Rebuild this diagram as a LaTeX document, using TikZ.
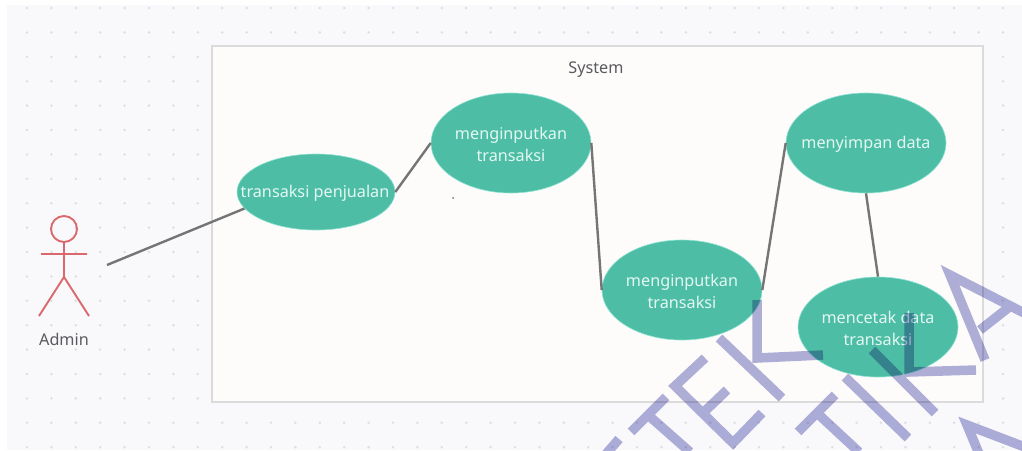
\documentclass[tikz,border=0pt]{standalone}
\usepackage{fontspec}
\setmainfont{Noto Sans}
\usetikzlibrary{shapes.geometric}
\definecolor{panelbg}{HTML}{F9F9FC}
\definecolor{griddot}{HTML}{DEDEE5}
\definecolor{boxfill}{HTML}{FDFCFB}
\definecolor{boxline}{HTML}{DBDBDB}
\definecolor{usefill}{HTML}{4DBDA6}
\definecolor{usehalo}{HTML}{8FE3D0}
\definecolor{usetext}{HTML}{E4F8F2}
\definecolor{linkcol}{HTML}{757575}
\definecolor{actorcol}{HTML}{D9696C}
\definecolor{labelcol}{HTML}{5A5A5F}
\definecolor{markcol}{HTML}{B0B0DA}
\tikzset{
  usecase/.style={ellipse,fill=usefill,draw=usehalo,line width=0.6pt,inner sep=0pt,
    minimum width=160pt,minimum height=100pt},
  usetextnode/.style={text=usetext,align=center,inner sep=0pt,
    font=\fontsize{16.2}{22}\selectfont},
  link/.style={draw=linkcol,line width=2.4pt},
  actorline/.style={draw=actorcol,line width=1.9pt},
  caption/.style={text=labelcol,font=\fontsize{16.2}{20}\selectfont,inner sep=0pt},
  watermark/.style={draw=markcol,line width=9.5pt,blend mode=multiply}
}
\begin{document}
\begin{tikzpicture}[x=1pt,y=-1pt]
\useasboundingbox (0,0) rectangle (1022,450);
\clip (0,0) rectangle (1022,450);
\fill[white] (0,0) rectangle (1022,450);
\fill[panelbg] (7,5) rectangle (1022,450);
\foreach \i in {0,...,40}{\foreach \j in {0,...,18}{
  \fill[griddot] ({27+24.4*\i},{8+24.4*\j}) circle (1.4);}}
\node[draw=boxline,fill=boxfill,line width=2pt,minimum width=771pt,minimum height=356pt,
  inner sep=0pt,anchor=north west] (sys) at (211,45) {};
\node[caption] (title) at (596,70) {System};
\fill[linkcol] (453,198) circle (1);
\node[usecase,minimum width=158pt,minimum height=76pt] (e1) at (316,192) {};
\node[usecase] (e2) at (511,143) {};
\node[usecase] (e3) at (682,290) {};
\node[usecase] (e4) at (866,143) {};
\node[usecase] (e5) at (878,327) {};
\node[usetextnode] (t1) at (315,193) {transaksi penjualan};
\node[usetextnode] (t2) at (511,144) {menginputkan\\transaksi};
\node[usetextnode] (t3) at (682,291) {menginputkan\\transaksi};
\node[usetextnode] (t4) at (866,144) {menyimpan data};
\node[usetextnode] (t5) at (878,328) {mencetak data\\transaksi};
% actor
\node[circle,actorline,minimum size=26pt,inner sep=0pt] (head) at (64,229) {};
\coordinate (armL) at (41,254);
\coordinate (armR) at (87,254);
\coordinate (hip) at (64,277);
\coordinate (footL) at (39,316);
\coordinate (footR) at (89,316);
\draw[actorline] (head.south) -- (hip) (armL) -- (armR) (footL) -- (hip) -- (footR);
\node[caption] (admin) at (64,339) {Admin};
% connectors
\coordinate (actorend) at (107,265);
\draw[link] (actorend) -- (e1.193);
\draw[link] (e1.east) -- (e2.west);
\draw[link] (e2.east) -- (e3.west);
\draw[link] (e3.east) -- (e4.west);
\draw[link] (e4.south) -- (e5.north);
% watermark
\draw[watermark]
  (631,432) -- (666,397) (648,415) -- (690,452)
  (705,358) -- (675,386) -- (733,443) -- (762,413) (704,412) -- (727,390)
  (719,338) -- (782,398) (757,300) -- (757,358) -- (823,355)
  (798,432) -- (835,395) (817,413) -- (859,452)
  (845,377) -- (908,438)
  (872,350) -- (935,413) (909,313) -- (909,372) -- (976,370)
  (985,360) -- (950,275) -- (1030,316) (980,330) -- (1008,308)
  (980,456) -- (967,425) -- (1030,449)
  (619,439) -- (606,454);
\end{tikzpicture}
\end{document}
